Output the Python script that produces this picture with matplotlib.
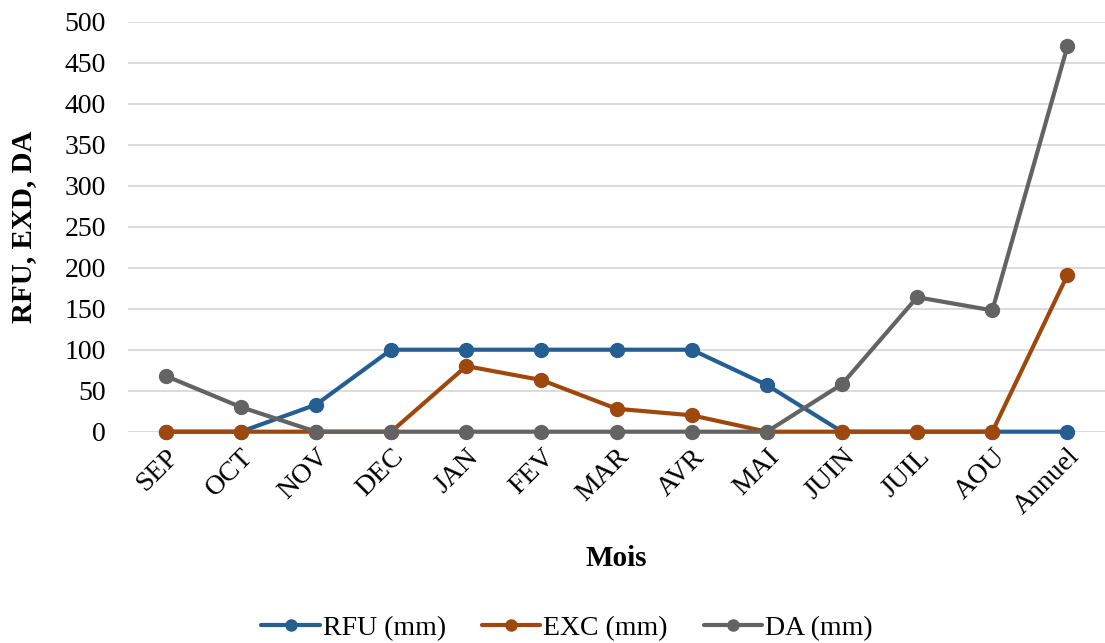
import matplotlib.pyplot as plt
import numpy as np

plt.rcParams["font.family"] = ["Liberation Serif", "DejaVu Serif"]

mois = ["SEP", "OCT", "NOV", "DEC", "JAN", "FEV", "MAR", "AVR", "MAI",
        "JUIN", "JUIL", "AOU", "Annuel"]
rfu = [0, 0, 33, 100, 100, 100, 100, 100, 57, 0, 0, 0, 0]
exc = [0, 0, 0, 0, 80, 63, 28, 20, 0, 0, 0, 0, 191]
da = [68, 30, 0, 0, 0, 0, 0, 0, 0, 58, 164, 148, 470]

series = [
    ("RFU (mm)", rfu, "#255E91"),
    ("EXC (mm)", exc, "#9E480E"),
    ("DA (mm)", da, "#636363"),
]

fig = plt.figure(figsize=(11.05, 6.43), dpi=100)
ax = fig.add_axes([0.116, 0.3286, 0.884, 0.6376])

x = np.arange(len(mois))
for label, values, color in series:
    ax.plot(x, values, color=color, linewidth=3, marker="o",
            markersize=10, label=label, solid_capstyle="round", clip_on=False)

ax.set_xlim(-0.5, len(mois) - 0.5)
ax.set_ylim(0, 500)
ax.set_yticks(np.arange(0, 501, 50))
ax.set_xticks(x)
ax.set_xticklabels(mois, rotation=45, ha="right", rotation_mode="anchor")
ax.tick_params(axis="both", length=0, labelsize=20, colors="#000000")
ax.tick_params(axis="x", pad=9)
ax.tick_params(axis="y", pad=16)

ax.grid(axis="y", color="#D9D9D9", linewidth=1.3)
ax.set_axisbelow(True)
for spine in ax.spines.values():
    spine.set_visible(False)

ax.set_xlabel("Mois", fontsize=21, fontweight="bold", labelpad=18)
ax.set_ylabel("RFU, EXD, DA", fontsize=21, fontweight="bold", labelpad=20)

fig.legend(loc="center", bbox_to_anchor=(0.513, 0.023), ncol=3, frameon=False,
           fontsize=20, handlelength=2.1, columnspacing=1.3, handletextpad=0.1,
           markerscale=0.8)

fig.savefig("out.png", dpi=100)
